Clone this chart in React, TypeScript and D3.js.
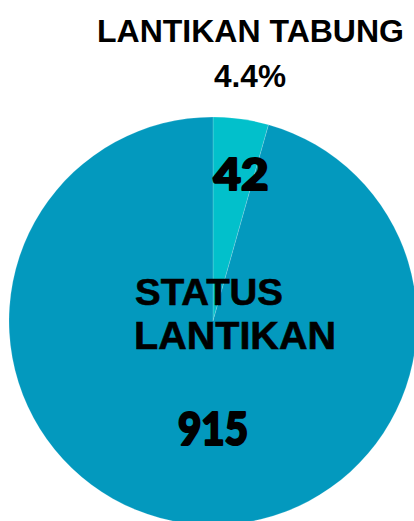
import React from "react";
import * as d3 from "d3";

const categories = ["LANTIKAN TABUNG", "STATUS LANTIKAN"];
const values = [42, 915];
const colors = ["#02c0cb", "#0399be"];

const W = 414;
const H = 521;

export default function App() {
  const cx = 213;
  const cy = 321;
  const r = 204;
  const pie = d3.pie<number>().sort(null).value((d) => d);
  const arcs = pie(values);
  const arc = d3.arc<d3.PieArcDatum<number>>().innerRadius(0).outerRadius(r);
  const total = d3.sum(values);
  const pct = d3.format(".1f")((values[0] / total) * 100) + "%";

  return (
    <svg
      width={W}
      height={H}
      style={{ position: "absolute", left: 0, top: 0, display: "block" }}
    >
      <rect width={W} height={H} fill="#ffffff" />
      <g transform={`translate(${cx},${cy})`}>
        {arcs.map((a, i) => (
          <path
            key={i}
            d={arc(a) || ""}
            fill={colors[i]}
            stroke="#ffffff"
            strokeOpacity={0.35}
            strokeWidth={0.5}
          />
        ))}
      </g>
      <text
        x={250.5}
        y={42}
        textAnchor="middle"
        fontFamily="Liberation Sans, Arial, sans-serif"
        fontWeight="bold"
        fontSize={31}
        textLength={307}
        lengthAdjust="spacingAndGlyphs"
        fill="#000"
      >
        {categories[0]}
      </text>
      <text
        x={250}
        y={87}
        textAnchor="middle"
        fontFamily="Liberation Sans, Arial, sans-serif"
        fontWeight="bold"
        fontSize={31}
        textLength={72}
        lengthAdjust="spacingAndGlyphs"
        fill="#000"
      >
        {pct}
      </text>
      <text
        x={241}
        y={190}
        textAnchor="middle"
        fontFamily="Lato, sans-serif"
        fontWeight={900}
        fontSize={44}
        textLength={55}
        lengthAdjust="spacingAndGlyphs"
        fill="#000"
        stroke="#000"
        strokeWidth={2.2}
        strokeLinejoin="round"
      >
        {values[0]}
      </text>
      <text
        x={135}
        y={305}
        textAnchor="start"
        fontFamily="Liberation Sans, Arial, sans-serif"
        fontWeight="bold"
        fontSize={36}
        textLength={148}
        lengthAdjust="spacingAndGlyphs"
        fill="#000"
        stroke="#000"
        strokeWidth={0.6}
      >
        {categories[1].split(" ")[0]}
      </text>
      <text
        x={134}
        y={349}
        textAnchor="start"
        fontFamily="Liberation Sans, Arial, sans-serif"
        fontWeight="bold"
        fontSize={38}
        textLength={202}
        lengthAdjust="spacingAndGlyphs"
        fill="#000"
        stroke="#000"
        strokeWidth={0.6}
      >
        {categories[1].split(" ")[1]}
      </text>
      <text
        x={213}
        y={445}
        textAnchor="middle"
        fontFamily="Lato, sans-serif"
        fontWeight={900}
        fontSize={45}
        textLength={70}
        lengthAdjust="spacingAndGlyphs"
        fill="#000"
        stroke="#000"
        strokeWidth={2.2}
        strokeLinejoin="round"
      >
        {values[1]}
      </text>
    </svg>
  );
}
